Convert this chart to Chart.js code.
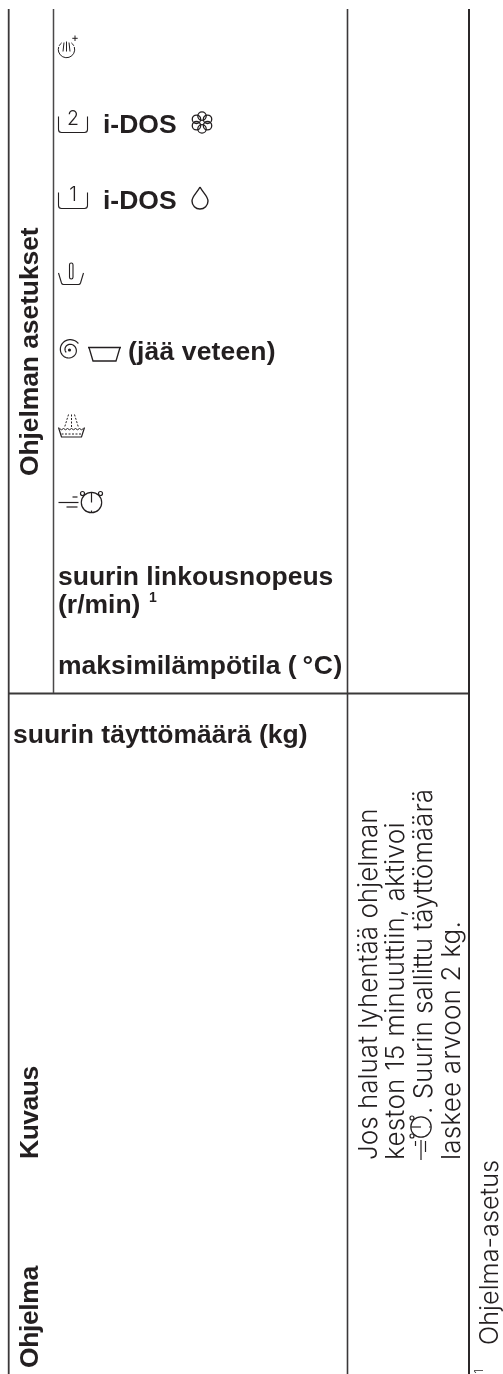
<!DOCTYPE html>
<html lang="fi">

<head>
    <meta charset="UTF-8" />
    <title>Ohjelman asetukset</title>
    <script src="https://cdn.jsdelivr.net/npm/chart.js@4/dist/chart.umd.js"></script>
    <style>
        html, body { margin: 0; background: #fff; }
        canvas { display: block; }
    </style>
</head>

<body>
    <canvas id="myChart" width="503" height="1374"></canvas>

    <script>
        // table content
        const columnHeads = ['Ohjelma', 'Kuvaus', 'suurin täyttömäärä (kg)', 'Ohjelman asetukset'];
        const settingLabels = ['i-DOS', 'i-DOS', '(jää veteen)', 'suurin linkousnopeus', '(r/min)', 'maksimilämpötila (', '°C)'];
        const descriptionLines = ['Jos haluat lyhentää ohjelman', 'keston 15 minuuttiin, aktivoi', '. Suurin sallittu täyttömäärä', 'laskee arvoon 2 kg.'];
        const footnote = 'Ohjelma-asetus';

        // rule positions, same units as the axes
        const rowEdges = [85, 161, 237, 313, 389, 465, 541, 636];
        const lowerEdge = 769;
        const ink = '#231f20';

        function rule(x1, y1, x2, y2, width, color) {
            return {
                data: [{ x: x1, y: y1 }, { x: x2, y: y2 }],
                showLine: true,
                borderColor: color,
                borderWidth: width,
                pointRadius: 0
            };
        }

        const rules = [
            rule(8.7, 9, 8.7, 1374, 1.8, '#3a3839'),
            rule(53.5, 9, 53.5, 693, 1.5, '#4a4849'),
            rule(347.5, 9, 347.5, 1374, 1.6, '#3a3839'),
            rule(469, 9, 469, 1374, 2, '#2b2829'),
            rule(8, 693.5, 469, 693.5, 1.8, '#3a3839')
        ];
        // the small breaks in the verticals where the cell edges were
        rowEdges.forEach(y => {
            rules.push(rule(52, y, 55, y, 0.8, 'rgba(255,255,255,0.75)'));
            rules.push(rule(346, y, 349, y, 0.8, 'rgba(255,255,255,0.75)'));
        });
        rules.push(rule(7, lowerEdge, 10, lowerEdge, 0.8, 'rgba(255,255,255,0.75)'));
        rules.push(rule(346, lowerEdge, 349, lowerEdge, 0.8, 'rgba(255,255,255,0.75)'));

        function label(ctx, text, x, y, font, spacing) {
            ctx.font = font;
            ctx.letterSpacing = (spacing || 0) + 'px';
            ctx.fillText(text, x, y);
            ctx.letterSpacing = '0px';
        }

        // text reading bottom to top, x is the baseline
        function upLabel(ctx, text, x, y, font, spacing) {
            ctx.save();
            ctx.translate(x, y);
            ctx.rotate(-Math.PI / 2);
            label(ctx, text, 0, 0, font, spacing);
            ctx.restore();
        }

        function seg(ctx, x1, y1, x2, y2) {
            ctx.beginPath();
            ctx.moveTo(x1, y1);
            ctx.lineTo(x2, y2);
            ctx.stroke();
        }

        function handWash(ctx, x, y) {
            ctx.lineWidth = 1;
            ctx.beginPath();
            ctx.arc(x, y, 8.2, -0.1 * Math.PI, 1.1 * Math.PI);
            ctx.stroke();
            ctx.beginPath();
            ctx.arc(x, y, 8.2, 1.15 * Math.PI, 1.3 * Math.PI);
            ctx.stroke();
            ctx.beginPath();
            ctx.arc(x, y, 8.2, 1.7 * Math.PI, 1.85 * Math.PI);
            ctx.stroke();
            seg(ctx, x - 2.5, y - 7, x - 3.5, y + 2);
            seg(ctx, x, y - 8, x, y + 2);
            seg(ctx, x + 2.5, y - 7, x + 3.5, y + 2);
            seg(ctx, x + 8.5, y - 14, x + 8.5, y - 8.5);
            seg(ctx, x + 5.8, y - 11.2, x + 11.2, y - 11.2);
        }

        function tray(ctx, x, y, digit) {
            // x, y is the top left end of the tray
            ctx.lineWidth = 1.1;
            ctx.beginPath();
            ctx.moveTo(x, y);
            ctx.lineTo(x, y + 13);
            ctx.quadraticCurveTo(x, y + 16, x + 3, y + 16);
            ctx.lineTo(x + 26, y + 16);
            ctx.quadraticCurveTo(x + 29, y + 16, x + 29, y + 13);
            ctx.lineTo(x + 29, y);
            ctx.stroke();
            ctx.textAlign = 'center';
            label(ctx, digit, x + 14.5, y + 8.5, '300 19.5px Inter');
            ctx.textAlign = 'left';
        }

        function flower(ctx, x, y) {
            ctx.lineWidth = 1.3;
            for (let i = 0; i < 6; i++) {
                const a = i * Math.PI / 3 + Math.PI / 2;
                ctx.beginPath();
                ctx.arc(x + Math.cos(a) * 6.4, y + Math.sin(a) * 6.4, 4.2, 0, 2 * Math.PI);
                ctx.stroke();
            }
        }

        function drop(ctx, x, y) {
            // x, y is the tip
            ctx.lineWidth = 1.4;
            ctx.beginPath();
            ctx.moveTo(x, y);
            ctx.bezierCurveTo(x + 3, y + 6, x + 8, y + 9, x + 8, y + 14);
            ctx.arc(x, y + 14, 8, 0, Math.PI);
            ctx.bezierCurveTo(x - 8, y + 9, x - 3, y + 6, x, y);
            ctx.stroke();
        }

        function softener(ctx, x, y) {
            ctx.lineWidth = 1.1;
            ctx.beginPath();
            ctx.moveTo(x, y);
            ctx.lineTo(x + 3, y + 10);
            ctx.quadraticCurveTo(x + 3.5, y + 11.5, x + 5, y + 11.5);
            ctx.lineTo(x + 20, y + 11.5);
            ctx.quadraticCurveTo(x + 21.5, y + 11.5, x + 22, y + 10);
            ctx.lineTo(x + 25, y);
            ctx.stroke();
            ctx.beginPath();
            ctx.roundRect(x + 11, y - 10, 3.5, 16, 1.7);
            ctx.stroke();
        }

        function spiral(ctx, x, y) {
            ctx.lineWidth = 1.2;
            ctx.beginPath();
            for (let i = 0; i <= 80; i++) {
                const t = i / 80;
                const a = -0.2 * Math.PI - t * 3 * Math.PI;
                const r = 11 - 7 * t;
                const px = x + Math.cos(a) * r;
                const py = y + Math.sin(a) * r;
                if (i === 0) ctx.moveTo(px, py); else ctx.lineTo(px, py);
            }
            ctx.stroke();
            ctx.beginPath();
            ctx.arc(x, y, 1.6, 0, 2 * Math.PI);
            ctx.fill();
        }

        function tub(ctx, x, y) {
            ctx.lineWidth = 1.6;
            seg(ctx, x, y, x + 33, y);
            ctx.lineWidth = 1.3;
            ctx.beginPath();
            ctx.moveTo(x + 1, y);
            ctx.lineTo(x + 5, y + 13.5);
            ctx.lineTo(x + 28, y + 13.5);
            ctx.lineTo(x + 32, y);
            ctx.stroke();
        }

        function rinse(ctx, x, y) {
            ctx.lineWidth = 1.2;
            ctx.beginPath();
            ctx.moveTo(x, y);
            ctx.lineTo(x + 3, y + 9.5);
            ctx.lineTo(x + 23, y + 9.5);
            ctx.lineTo(x + 26, y);
            ctx.stroke();
            ctx.lineWidth = 1;
            ctx.beginPath();
            for (let i = 0; i < 6; i++) {
                ctx.moveTo(x + 1 + i * 4, y + 1);
                ctx.quadraticCurveTo(x + 3 + i * 4, y + 3.5, x + 5 + i * 4, y + 1);
            }
            ctx.stroke();
            ctx.setLineDash([2, 1.5]);
            seg(ctx, x + 3, y + 6.5, x + 23, y + 6.5);
            seg(ctx, x + 10, y - 13, x + 6, y);
            seg(ctx, x + 13, y - 13, x + 13, y);
            seg(ctx, x + 16, y - 13, x + 20, y);
            ctx.setLineDash([]);
        }

        // x, y: left end of the speed lines, on the clock's middle
        function speedClock(ctx, x, y) {
            ctx.lineWidth = 1.2;
            seg(ctx, x + 14, y - 5.5, x + 19, y - 5.5);
            seg(ctx, x, y, x + 20, y);
            seg(ctx, x + 8, y + 4.5, x + 19, y + 4.5);
            ctx.beginPath();
            ctx.arc(x + 33, y, 10.2, 0, 2 * Math.PI);
            ctx.stroke();
            seg(ctx, x + 33, y - 10, x + 33, y);
            seg(ctx, x + 33, y + 8, x + 33, y + 10);
            ctx.beginPath();
            ctx.arc(x + 24, y - 9, 2, 0, 2 * Math.PI);
            ctx.moveTo(x + 44, y - 9);
            ctx.arc(x + 42, y - 9, 2, 0, 2 * Math.PI);
            ctx.stroke();
        }

        const tableText = {
            id: 'tableText',
            afterDatasetsDraw(chart) {
                const ctx = chart.ctx;
                const X = v => chart.scales.x.getPixelForValue(v);
                const Y = v => chart.scales.y.getPixelForValue(v);
                const bold = '700 26.5px "Liberation Sans"';
                const light = '300 26px Inter';

                ctx.save();
                ctx.fillStyle = ink;
                ctx.strokeStyle = ink;
                ctx.textBaseline = 'alphabetic';

                // column heads
                upLabel(ctx, columnHeads[0], X(38), Y(1368), bold, -0.4);
                upLabel(ctx, columnHeads[1], X(38), Y(1159), bold, -0.5);
                label(ctx, columnHeads[2], X(13), Y(743), bold);
                upLabel(ctx, columnHeads[3], X(38), Y(476), bold, -0.1);

                // setting rows, top to bottom
                handWash(ctx, X(66.5), Y(49.5));
                tray(ctx, X(58.5), Y(116.5), '2');
                label(ctx, settingLabels[0], X(103), Y(132.5), bold);
                flower(ctx, X(202), Y(122.5));
                tray(ctx, X(58.5), Y(192.5), '1');
                label(ctx, settingLabels[1], X(103), Y(208.5), bold);
                drop(ctx, X(200), Y(187));
                softener(ctx, X(58.5), Y(273));
                spiral(ctx, X(69.5), Y(350));
                tub(ctx, X(88), Y(347.5));
                label(ctx, settingLabels[2], X(128), Y(360), bold, 0.15);
                rinse(ctx, X(58.5), Y(427.5));
                speedClock(ctx, X(58.5), Y(502.5));
                label(ctx, settingLabels[3], X(58), Y(585), bold);
                label(ctx, settingLabels[4], X(58), Y(613), bold);
                label(ctx, '1', X(149), Y(602), '700 14px "Liberation Sans"');
                label(ctx, settingLabels[5], X(58), Y(674), bold);
                label(ctx, settingLabels[6], X(302.5), Y(674), bold, 0.6);

                // description cell
                upLabel(ctx, descriptionLines[0], X(376.5), Y(1160), light);
                upLabel(ctx, descriptionLines[1], X(404), Y(1160), light, 0.3);
                ctx.save();
                ctx.translate(X(421), Y(1160));
                ctx.rotate(-Math.PI / 2);
                speedClock(ctx, 0, 0);
                ctx.restore();
                upLabel(ctx, descriptionLines[2], X(432), Y(1114), light);
                upLabel(ctx, descriptionLines[3], X(460), Y(1160), light, 0.2);

                // footnote
                upLabel(ctx, '1', X(483), Y(1373.5), '300 11px Inter');
                upLabel(ctx, footnote, X(498), Y(1345), '300 25.3px Inter');
                ctx.restore();
            }
        };

        const chartEl = document.getElementById('myChart').getContext('2d');
        const myChart = new Chart(chartEl, {
            type: 'scatter',
            data: { datasets: rules },
            plugins: [tableText],
            options: {
                responsive: false,
                animation: false,
                layout: { padding: 0 },
                plugins: { legend: { display: false }, tooltip: { enabled: false } },
                scales: {
                    x: { type: 'linear', min: 0, max: 503, display: false },
                    y: { type: 'linear', min: 0, max: 1374, reverse: true, display: false }
                }
            }
        });
    </script>
</body>

</html>
